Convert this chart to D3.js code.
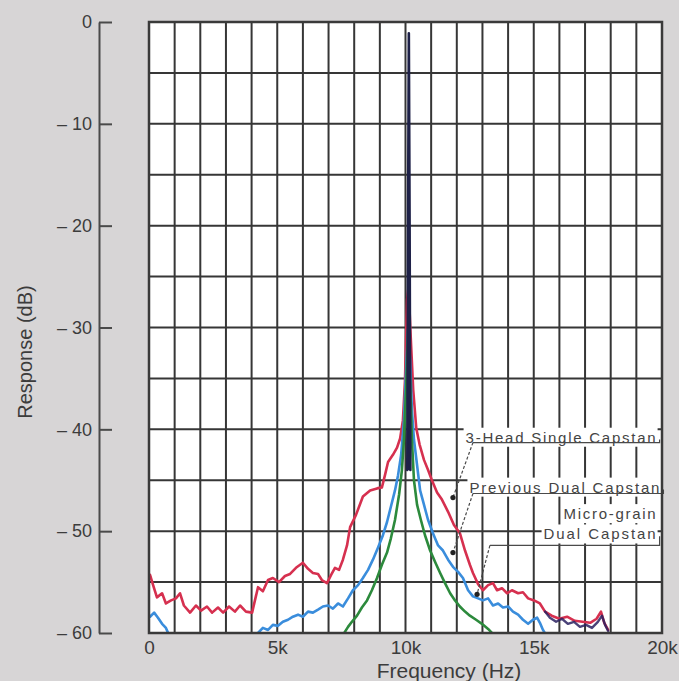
<!DOCTYPE html>
<html><head><meta charset="utf-8">
<script src="https://cdn.jsdelivr.net/npm/d3@7"></script>
<style>
html,body{margin:0;padding:0;background:#d7d5d6;}
svg{display:block;font-family:"Liberation Sans",Arial,Helvetica,sans-serif;}
</style></head>
<body><svg id="chart" width="679" height="681"></svg>
<script>
// ---- data (frequency in kHz, response in dB) ----
const xTicks = [0, 5, 10, 15, 20];
const xTickLabels = ["0", "5k", "10k", "15k", "20k"];
const yTicks = [0, -10, -20, -30, -40, -50, -60];

const singleCapstan = [ // 3-Head Single Capstan (red)
 [0.04,-54.3],[0.16,-55.3],[0.31,-56.5],[0.51,-56.1],[0.66,-57.1],[0.86,-56.8],[1.05,-56.6],[1.21,-56.1],
 [1.36,-57.3],[1.6,-58.0],[1.83,-57.3],[2.03,-57.8],[2.26,-57.4],[2.46,-58.0],[2.69,-57.5],[2.89,-58.0],
 [3.12,-57.4],[3.35,-57.9],[3.55,-57.3],[3.78,-57.9],[4.02,-58.0],[4.13,-56.8],[4.25,-55.5],[4.44,-55.9],
 [4.64,-54.8],[4.83,-54.6],[5.07,-55.0],[5.30,-54.4],[5.50,-54.2],[5.73,-53.6],[6.00,-53.1],[6.20,-53.7],
 [6.39,-54.1],[6.59,-54.2],[6.74,-54.8],[6.94,-55.1],[7.10,-54.3],[7.25,-53.6],[7.41,-53.8],[7.56,-52.8],
 [7.72,-51.4],[7.84,-49.6],[8.07,-48.4],[8.34,-46.6],[8.62,-46.0],[8.89,-45.8],[9.08,-45.7],[9.20,-44.5],
 [9.32,-43.2],[9.51,-42.5],[9.67,-41.8],[9.79,-40.9],[9.90,-39.1],[9.98,-35.2],[10.06,-27.3],[10.12,-26.0],
 [10.19,-30.2],[10.30,-36.1],[10.42,-39.9],[10.55,-41.5],[10.72,-43.0],[10.88,-44.0],[11.03,-45.0],[11.23,-46.2],
 [11.42,-46.9],[11.66,-48.1],[11.89,-49.4],[12.12,-50.2],[12.32,-51.9],[12.51,-53.3],[12.63,-54.1],[12.83,-55.2],
 [13.02,-55.8],[13.22,-55.3],[13.41,-55.1],[13.57,-55.8],[13.76,-55.6],[13.96,-56.1],[14.15,-55.8],[14.39,-56.1],
 [14.58,-56.0],[14.78,-56.6],[15.01,-56.8],[15.24,-57.1],[15.44,-57.9],[15.7,-58.3],[16.0,-58.6],[16.3,-58.4],
 [16.6,-58.8],[16.9,-58.9],[17.2,-59.0],[17.45,-58.6],[17.62,-57.9],[17.75,-59.0],[17.9,-59.7]
];
const previousDual = [ // Previous Dual Capstan (blue)
 [0.04,-58.4],[0.2,-58.0],[0.35,-58.5],[0.51,-59.1],[0.66,-59.5],[0.78,-60.2],[4.2,-60.2],
 [4.25,-60.0],[4.44,-59.5],[4.64,-59.7],[4.83,-59.2],[5.03,-59.3],[5.22,-58.9],[5.42,-58.7],[5.61,-58.4],
 [5.81,-58.2],[6.0,-58.4],[6.2,-57.9],[6.39,-58.0],[6.59,-57.7],[6.78,-57.4],[6.98,-57.3],[7.17,-57.6],
 [7.37,-57.1],[7.56,-57.4],[7.76,-56.6],[7.95,-55.8],[8.15,-55.3],[8.34,-54.6],[8.54,-53.8],[8.73,-52.8],
 [8.93,-51.6],[9.12,-50.4],[9.28,-49.1],[9.43,-47.6],[9.59,-46.0],[9.71,-44.5],[9.83,-42.5],[9.94,-39.1],
 [10.02,-34.2],[10.1,-30.2],[10.18,-33.2],[10.25,-38.1],[10.33,-41.0],[10.45,-43.5],[10.57,-46.0],[10.72,-47.4],
 [10.88,-48.9],[11.07,-50.2],[11.27,-51.4],[11.46,-51.9],[11.66,-52.8],[11.85,-53.5],[12.05,-54.0],[12.24,-54.6],
 [12.44,-55.8],[12.63,-56.4],[12.83,-56.6],[13.02,-56.8],[13.22,-56.6],[13.41,-57.3],[13.61,-57.1],[13.8,-57.5],
 [14.0,-57.4],[14.19,-57.9],[14.39,-58.2],[14.58,-58.7],[14.78,-59.1],[14.97,-58.7],[15.13,-58.5],[15.24,-59.0],
 [15.36,-59.7],[15.48,-60.2]
];
const microGrain = [ // Micro-grain Dual Capstan (green)
 [7.56,-60.2],[7.76,-59.4],[7.91,-58.9],[8.11,-58.3],[8.3,-57.5],[8.5,-56.8],[8.69,-55.8],[8.89,-54.6],
 [9.08,-53.3],[9.28,-52.1],[9.43,-50.7],[9.59,-48.9],[9.75,-46.4],[9.86,-44.0],[9.94,-41.0],[10.02,-36.1],
 [10.1,-30.2],[10.18,-35.2],[10.25,-41.0],[10.33,-45.0],[10.45,-47.4],[10.6,-48.9],[10.76,-50.4],[10.96,-51.9],
 [11.15,-53.0],[11.35,-54.1],[11.54,-55.1],[11.74,-56.1],[11.93,-56.8],[12.12,-57.4],[12.32,-57.9],[12.51,-58.3],
 [12.75,-58.7],[12.98,-59.1],[13.22,-59.6],[13.45,-60.2]
];
const peakOverlay = [ // dark overprint at the 10 kHz tone
 [10.07,-44.0],[10.10,-20.0],[10.13,-1.1],[10.16,-20.0],[10.19,-44.0]
];
const tailOverlay = [ // dark overprint in the 15-18 kHz tail
 [15.44,-57.9],[15.63,-58.5],[15.87,-58.9],[16.1,-58.6],[16.33,-59.1],[16.57,-58.9],[16.8,-59.4],
 [17.04,-59.2],[17.27,-59.5],[17.5,-58.9],[17.66,-58.3],[17.78,-59.2],[17.9,-59.8]
];

const legendLabels = [
 {lines:["3-Head Single Capstan"], textAt:[[19.75,-40.8]], width:[190], leaderY:-41.3, leaderX0:12.63, target:[11.85,-46.7]},
 {lines:["Previous Dual Capstan"], textAt:[[19.9,-45.7]], width:[190], leaderY:-46.3, leaderX0:12.63, target:[11.85,-52.1]},
 {lines:["Micro-grain","Dual Capstan"], textAt:[[19.75,-48.3],[19.75,-50.3]], width:[92,112], leaderY:-51.4, leaderX0:13.29, target:[12.79,-56.2]}
];

// ---- layout ----
const svg = d3.select("#chart");
const M = {left:149, top:22, right:17, bottom:48};
const W = 679 - M.left - M.right, H = 681 - M.top - M.bottom;
const x = d3.scaleLinear().domain([0, 20]).range([M.left, M.left + W]);
const y = d3.scaleLinear().domain([-60, 0]).range([M.top + H, M.top]);

svg.append("defs").append("clipPath").attr("id","plotclip")
  .append("rect").attr("x",x(0)).attr("y",y(0)).attr("width",W).attr("height",H);

// plot background
svg.append("rect").attr("x",x(0)).attr("y",y(0)).attr("width",W).attr("height",H).attr("fill","#fff");

// grid
const grid = svg.append("g").attr("stroke","#363636").attr("stroke-width",2);
grid.selectAll("line.v").data(d3.range(1,20,1)).join("line").attr("class","v")
  .attr("x1",d=>x(d)).attr("x2",d=>x(d)).attr("y1",y(0)).attr("y2",y(-60));
grid.selectAll("line.h").data(d3.range(-55,0,5)).join("line").attr("class","h")
  .attr("y1",d=>y(d)).attr("y2",d=>y(d)).attr("x1",x(0)).attr("x2",x(20));

// legend text backgrounds + text
const leg = svg.append("g");
legendLabels.forEach(L=>{
  L.lines.forEach((t,i)=>{
    const tx = x(L.textAt[i][0]), ty = y(L.textAt[i][1]);
    const bg = leg.append("rect").attr("fill","#fff");
    const txt = leg.append("text").attr("x",tx).attr("y",ty).attr("text-anchor","end")
      .attr("font-size",15).attr("fill","#444").attr("dy","0.35em")
      .attr("textLength",L.width[i]).attr("lengthAdjust","spacing").text(t);
    const bb = txt.node().getBBox();
    bg.attr("x",bb.x-2).attr("y",bb.y-1).attr("width",bb.width+4).attr("height",bb.height+2);
  });
});

// curves
const line = d3.line().x(d=>x(d[0])).y(d=>y(d[1]));
const curves = svg.append("g").attr("clip-path","url(#plotclip)").attr("fill","none")
  .attr("stroke-linejoin","round").attr("stroke-linecap","round");
curves.append("path").datum(singleCapstan).attr("d",line).attr("stroke","#d6304f").attr("stroke-width",2.6);
curves.append("path").datum(previousDual).attr("d",line).attr("stroke","#3a8ddc").attr("stroke-width",2.6);
curves.append("path").datum(microGrain).attr("d",line).attr("stroke","#2c8a3c").attr("stroke-width",2.6);
curves.append("path").datum(tailOverlay).attr("d",line).attr("stroke","#2a2160").attr("stroke-width",2.4).attr("opacity",0.85);
curves.append("path").datum(peakOverlay).attr("d",line).attr("stroke","#1e2148").attr("stroke-width",2.6).attr("fill","#1e2148");

// leaders
const ld = svg.append("g").attr("fill","none").attr("stroke","#4a4a4a").attr("stroke-width",1.2);
legendLabels.forEach(L=>{
  const last = L.textAt[L.textAt.length-1];
  const rx = x(last[0]) + 4;
  ld.append("path").attr("d",`M${rx},${y(last[1])+2}V${y(L.leaderY)}H${x(L.leaderX0)}`);
  ld.append("line").attr("x1",x(L.leaderX0)).attr("y1",y(L.leaderY))
    .attr("x2",x(L.target[0])).attr("y2",y(L.target[1])).attr("stroke-dasharray","3,2");
  svg.append("circle").attr("cx",x(L.target[0])).attr("cy",y(L.target[1])).attr("r",2.6).attr("fill","#222");
});

// plot frame
svg.append("rect").attr("x",x(0)).attr("y",y(0)).attr("width",W).attr("height",H)
  .attr("fill","none").attr("stroke","#3a3a3a").attr("stroke-width",2.5);

// y axis (detached)
const yAxis = d3.axisLeft(y).tickValues(yTicks).tickSizeInner(-13).tickSizeOuter(0).tickPadding(7)
  .tickFormat(d=> d===0 ? "0" : "\u2013 " + Math.abs(d));
const ya = svg.append("g").attr("transform","translate(99,0)").call(yAxis);
ya.select(".domain").attr("stroke","#4a4a4a").attr("stroke-width",2);
ya.selectAll(".tick line").attr("stroke","#4a4a4a").attr("stroke-width",2);
ya.selectAll(".tick text").attr("font-size",18).attr("fill","#3c3c3c")
  .attr("font-family","'Liberation Sans',Arial,sans-serif");

// x axis labels
const xAxis = d3.axisBottom(x).tickValues(xTicks).tickSize(0).tickPadding(8)
  .tickFormat((d,i)=>xTickLabels[i]);
const xa = svg.append("g").attr("transform",`translate(0,${y(-60)})`).call(xAxis);
xa.select(".domain").remove();
xa.selectAll(".tick text").attr("font-size",19).attr("fill","#3c3c3c")
  .attr("font-family","'Liberation Sans',Arial,sans-serif");

// axis titles
svg.append("text").attr("x",449).attr("y",678).attr("text-anchor","middle")
  .attr("font-size",21).attr("fill","#3c3c3c").text("Frequency (Hz)");
svg.append("text").attr("transform","translate(32,352) rotate(-90)").attr("text-anchor","middle")
  .attr("font-size",20).attr("fill","#3c3c3c").text("Response (dB)");
</script></body></html>
